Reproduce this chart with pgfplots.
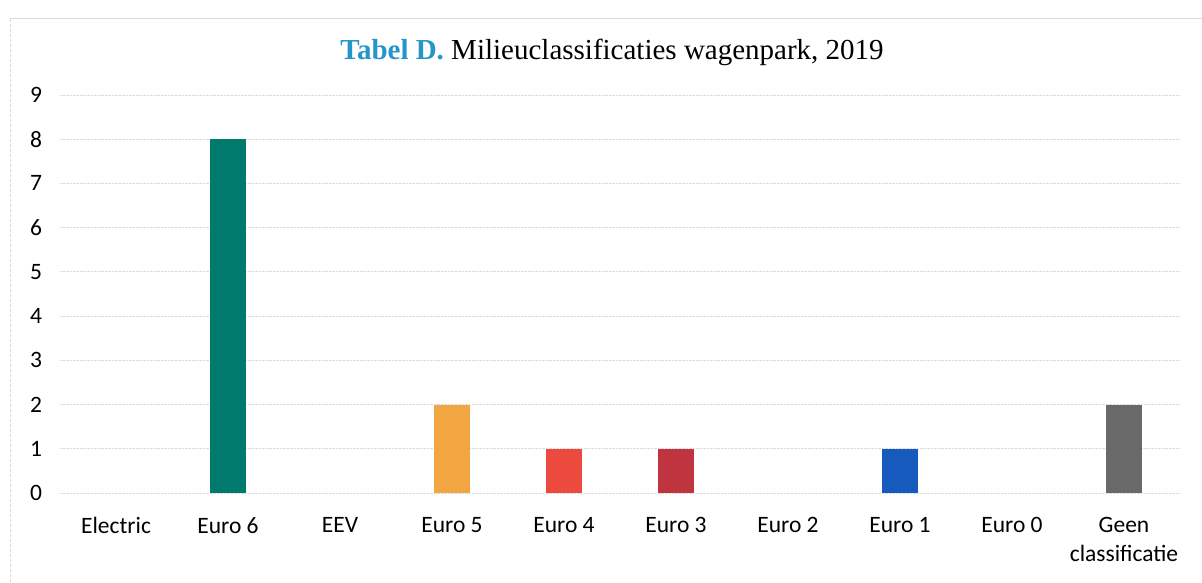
\documentclass[border=0pt]{standalone}
\usepackage{pgfplots}
\pgfplotsset{compat=1.18}
\usepackage{fontspec}
\setmainfont{Carlito}
\newfontfamily\titlefont{Liberation Serif}
\definecolor{cE6}{RGB}{0,122,108}
\definecolor{cE5}{RGB}{242,166,66}
\definecolor{cE4}{RGB}{236,74,62}
\definecolor{cE3}{RGB}{192,52,64}
\definecolor{cE1}{RGB}{22,90,190}
\definecolor{cGeen}{RGB}{105,105,105}
\definecolor{ctitle}{RGB}{38,150,200}
\begin{document}
\begin{tikzpicture}[x=1pt,y=1pt]
\useasboundingbox (0,0) rectangle (1202,582);
\draw[gray!30,densely dashed] (10,0) -- (10,564);
\draw[gray!30] (10,564) -- (1202,564);
\begin{axis}[
  anchor=south west, at={(60pt,89pt)},
  width=1120pt, height=398pt, scale only axis,
  xmin=-0.5, xmax=9.5, ymin=0, ymax=9,
  axis line style={draw=none},
  ybar, bar width=36pt,
  xtick={0,...,9},
  xticklabels={Electric,Euro 6,EEV,Euro 5,Euro 4,Euro 3,Euro 2,Euro 1,Euro 0,{Geen\\classificatie}},
  xticklabel style={font=\fontsize{23.5}{29}\selectfont, align=center, anchor=north, yshift=-21pt},
  ytick={0,...,9},
  yticklabel style={font=\fontsize{23.5}{26}\selectfont, anchor=center, xshift=-24pt},
  /pgf/number format/assume math mode=true,
  major tick length=0pt,
  ymajorgrids, grid style={gray!28, densely dotted, line width=0.8pt},
  clip=false,
]
\addplot[fill=cE6, draw=none, bar shift=0pt] coordinates {(1,8)};
\addplot[fill=cE5, draw=none, bar shift=0pt] coordinates {(3,2)};
\addplot[fill=cE4, draw=none, bar shift=0pt] coordinates {(4,1)};
\addplot[fill=cE3, draw=none, bar shift=0pt] coordinates {(5,1)};
\addplot[fill=cE1, draw=none, bar shift=0pt] coordinates {(7,1)};
\addplot[fill=cGeen, draw=none, bar shift=0pt] coordinates {(9,2)};
\end{axis}
\node[font=\titlefont\fontsize{29}{32}\selectfont] at (612,530) {\textcolor{ctitle}{\textbf{Tabel D.}} Milieuclassificaties wagenpark, 2019};
\end{tikzpicture}
\end{document}
